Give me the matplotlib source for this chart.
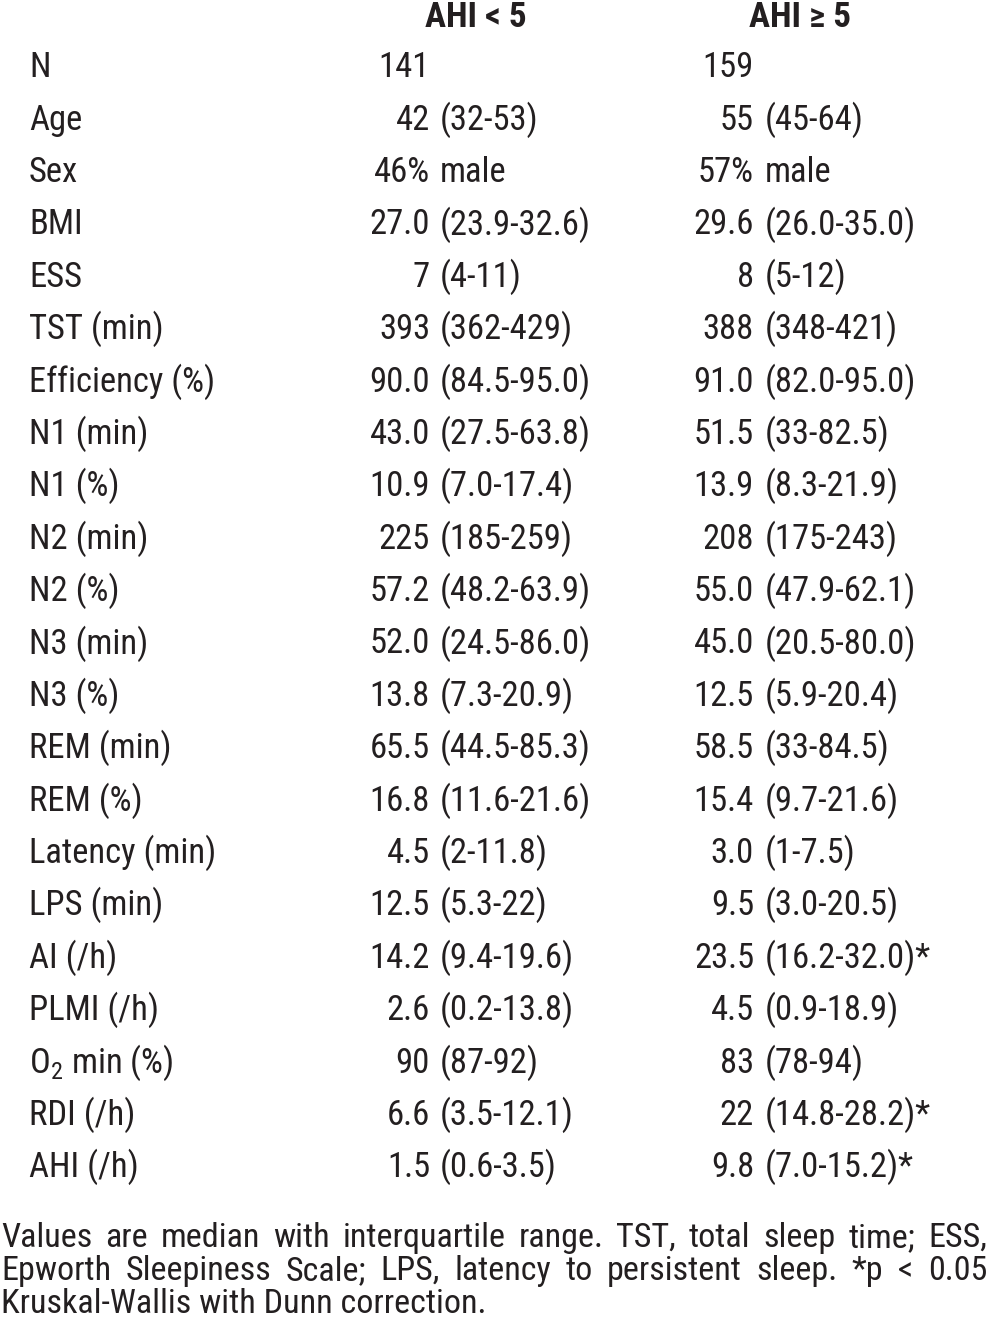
import matplotlib
matplotlib.use("Agg")
import matplotlib.pyplot as plt
from matplotlib import font_manager

# table content
row_labels = ['N', 'Age', 'Sex', 'BMI', 'ESS', 'TST (min)', 'Efficiency (%)',
              'N1 (min)', 'N1 (%)', 'N2 (min)', 'N2 (%)', 'N3 (min)', 'N3 (%)',
              'REM (min)', 'REM (%)', 'Latency (min)', 'LPS (min)', 'AI (/h)',
              'PLMI (/h)', r'O$_\mathregular{2}$ min (%)', 'RDI (/h)', 'AHI (/h)']
col_headers = ['AHI < 5', 'AHI \u2265 5']

low_med = ['141', '42', '46%', '27.0', '7', '393', '90.0', '43.0', '10.9', '225',
           '57.2', '52.0', '13.8', '65.5', '16.8', '4.5', '12.5', '14.2', '2.6',
           '90', '6.6', '1.5']
low_iqr = ['', '(32-53)', 'male', '(23.9-32.6)', '(4-11)', '(362-429)',
           '(84.5-95.0)', '(27.5-63.8)', '(7.0-17.4)', '(185-259)', '(48.2-63.9)',
           '(24.5-86.0)', '(7.3-20.9)', '(44.5-85.3)', '(11.6-21.6)', '(2-11.8)',
           '(5.3-22)', '(9.4-19.6)', '(0.2-13.8)', '(87-92)', '(3.5-12.1)',
           '(0.6-3.5)']
high_med = ['159', '55', '57%', '29.6', '8', '388', '91.0', '51.5', '13.9', '208',
            '55.0', '45.0', '12.5', '58.5', '15.4', '3.0', '9.5', '23.5', '4.5',
            '83', '22', '9.8']
high_iqr = ['', '(45-64)', 'male', '(26.0-35.0)', '(5-12)', '(348-421)',
            '(82.0-95.0)', '(33-82.5)', '(8.3-21.9)', '(175-243)', '(47.9-62.1)',
            '(20.5-80.0)', '(5.9-20.4)', '(33-84.5)', '(9.7-21.6)', '(1-7.5)',
            '(3.0-20.5)', '(16.2-32.0)*', '(0.9-18.9)', '(78-94)', '(14.8-28.2)*',
            '(7.0-15.2)*']

note_lines = ['Values are median with interquartile range. TST, total sleep time; ESS,',
              'Epworth Sleepiness Scale; LPS, latency to persistent sleep. *p < 0.05',
              'Kruskal-Wallis with Dunn correction.']

# narrow sans like the source, fall back to plain Liberation Sans
names = {f.name for f in font_manager.fontManager.ttflist}
main_font = 'Liberation Sans'
for cand in ['Liberation Sans Narrow', 'Roboto Condensed', 'Pragati Narrow']:
    if cand in names:
        main_font = cand
        break
fam = [main_font, 'Liberation Sans', 'DejaVu Sans']
plt.rcParams['font.family'] = fam
plt.rcParams['mathtext.fontset'] = 'custom'
plt.rcParams['mathtext.rm'] = main_font
ink = '#231f20'

W, H = 988, 1333
fig = plt.figure(figsize=(W / 100, H / 100), dpi=100)
fig.patch.set_facecolor('white')
renderer = fig.canvas.get_renderer()


def px(x, y):
    return x / W, 1 - y / H


def fit_size(s, target, **kw):
    t = fig.text(0, 0, s, fontsize=20, **kw)
    w = t.get_window_extent(renderer).width
    t.remove()
    return 20 * target / w


fs_tab = fit_size('27.0 (23.9-32.6)', 220)
fs_note = fit_size(note_lines[2], 485)
fs_head = fit_size(col_headers[0], 102, fontweight='bold')

row0, step = 65, 52.38
cap = 12.3   # half cap height in px

# header
for cx, h in zip([476, 800], col_headers):
    fig.text(*px(cx, 16 + 11), h, fontsize=fs_head, fontweight='bold',
             ha='center', va='baseline', color=ink)

med_right = [430, 754]
iqr_left = [440, 765]
for i, lab in enumerate(row_labels):
    yb = row0 + i * step + cap
    fig.text(*px(29, yb), lab, fontsize=fs_tab, ha='left', va='baseline', color=ink)
    for c, (meds, iqrs) in enumerate([(low_med, low_iqr), (high_med, high_iqr)]):
        fig.text(*px(med_right[c], yb), meds[i], fontsize=fs_tab, ha='right',
                 va='baseline', color=ink)
        if iqrs[i]:
            fig.text(*px(iqr_left[c], yb), iqrs[i], fontsize=fs_tab, ha='left',
                     va='baseline', color=ink)

# footnote, justified like the source
note_y = [1236, 1269, 1302]
left, right = 1, 987
for k, line in enumerate(note_lines):
    yb = note_y[k] + 11
    if k == len(note_lines) - 1:
        fig.text(*px(left, yb), line, fontsize=fs_note, ha='left', va='baseline', color=ink)
        continue
    words = line.split(' ')
    objs = [fig.text(*px(left, yb), w, fontsize=fs_note, ha='left', va='baseline', color=ink)
            for w in words]
    widths = [o.get_window_extent(renderer).width for o in objs]
    gap = (right - left - sum(widths)) / (len(words) - 1)
    x = left
    for o, wd in zip(objs, widths):
        o.set_position(px(x, yb))
        x += wd + gap

fig.savefig('out.png', dpi=100, facecolor='white')
